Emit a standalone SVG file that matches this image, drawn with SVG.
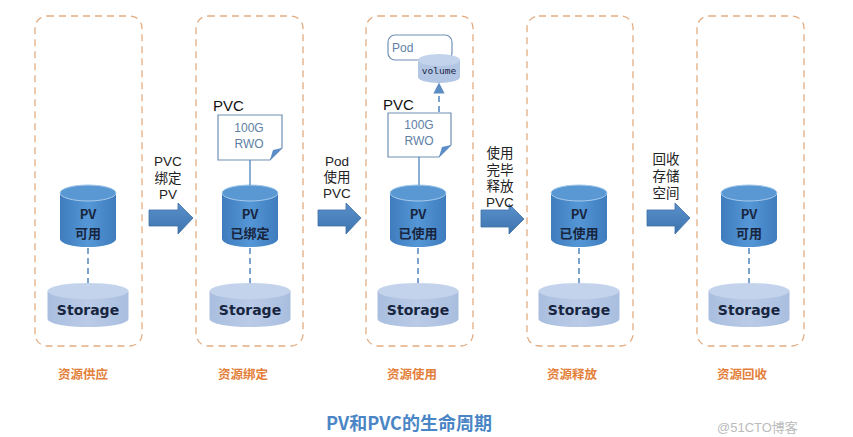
<svg xmlns="http://www.w3.org/2000/svg" width="853" height="437" viewBox="0 0 853 437">
<defs>
<linearGradient id="gPV" x1="0" y1="0" x2="1" y2="0">
<stop offset="0" stop-color="#3F7CBD"/><stop offset="0.5" stop-color="#5597D6"/><stop offset="1" stop-color="#3F7CBD"/>
</linearGradient>
<linearGradient id="gST" x1="0" y1="0" x2="1" y2="0">
<stop offset="0" stop-color="#A9BEDF"/><stop offset="0.5" stop-color="#BACBE7"/><stop offset="1" stop-color="#A9BEDF"/>
</linearGradient>
<linearGradient id="gAR" x1="0" y1="0" x2="0" y2="1">
<stop offset="0" stop-color="#5A90CB"/><stop offset="1" stop-color="#3E74AE"/>
</linearGradient>
<marker id="up" viewBox="0 0 10 10" refX="5" refY="5" markerWidth="7" markerHeight="7" orient="auto">
<path d="M0,0 L10,5 L0,10 Z" fill="#5B8DC2"/>
</marker>
<g id="pvcyl">
<path d="M-28,193 L-28,239 A28,8 0 0 0 28,239 L28,193 Z" fill="url(#gPV)"/>
<ellipse cx="0" cy="193" rx="28" ry="8" fill="#5A98D4" stroke="#A9CBEB" stroke-width="1"/>
</g>
<g id="stcyl">
<path d="M-40.5,291 L-40.5,319 A40.5,8 0 0 0 40.5,319 L40.5,291 Z" fill="url(#gST)"/>
<ellipse cx="0" cy="291" rx="40.5" ry="8" fill="#C4D3EC"/>
</g>
</defs>
<style>
.col{fill:none;stroke:#E3AC80;stroke-width:1.3;stroke-dasharray:7 5}
.pv{font-family:"Noto Sans CJK SC","Liberation Sans",sans-serif;font-weight:bold;font-size:13px;fill:#17253F;text-anchor:middle}
.st{font-family:"DejaVu Sans","Liberation Sans",sans-serif;font-weight:bold;font-size:14px;fill:#17253F;text-anchor:middle}
.lbl{font-family:"Liberation Sans","Noto Sans CJK SC",sans-serif;font-size:13.5px;fill:#222;text-anchor:middle}
.stage{font-family:"Noto Sans CJK SC",sans-serif;font-weight:bold;font-size:12.5px;fill:#E37F3A;text-anchor:middle}
.dash{stroke:#5B8DC2;stroke-width:1.6;stroke-dasharray:6 4;fill:none}
.solid{stroke:#5B8DC2;stroke-width:1.4;fill:none}
.note{fill:#fff;stroke:#6F8FB5;stroke-width:1.2}
.notet{font-family:"Liberation Sans","Noto Sans",sans-serif;font-size:12px;fill:#5E7FA6;text-anchor:middle}
.pvc{font-family:"Liberation Sans",sans-serif;font-size:15px;fill:#111}
.arrow{fill:url(#gAR);stroke:#3C6FA5;stroke-width:0.8}
</style>
<rect width="853" height="437" fill="#fff"/>

<g id="col1">
<rect class="col" x="35" y="16" width="107" height="330" rx="12"/>
<use href="#pvcyl" x="88"/>
<text class="pv" x="88" y="219">PV</text>
<text class="pv" x="88" y="238">可用</text>
<use href="#stcyl" x="88"/>
<text class="st" x="88" y="315">Storage</text>
<text class="stage" x="83" y="379">资源供应</text>
</g>

<g id="col2">
<rect class="col" x="196" y="16" width="107" height="330" rx="12"/>
<text class="pvc" x="213" y="111">PVC</text>
<path class="note" d="M218,115 H282 V148 L270,160 H218 Z"/>
<path d="M270,160 L273,150 L282,148 Z" fill="#5B8DC8"/>
<text class="notet" x="249" y="132">100G</text>
<text class="notet" x="249" y="148">RWO</text>
<use href="#pvcyl" x="250"/>
<text class="pv" x="250" y="219">PV</text>
<text class="pv" x="250" y="238">已绑定</text>
<use href="#stcyl" x="250"/>
<text class="st" x="250" y="315">Storage</text>
<text class="stage" x="243" y="379">资源绑定</text>
</g>

<g id="col3">
<rect class="col" x="366" y="16" width="107" height="330" rx="12"/>
<rect x="388" y="35" width="64" height="25" rx="7" fill="#fff" stroke="#6F8FB5" stroke-width="1.2"/>
<text x="392" y="52" font-family="Liberation Sans,sans-serif" font-size="12" fill="#5E7FA6">Pod</text>
<path d="M418,60 L418,77 A21,6 0 0 0 460,77 L460,60 Z" fill="#B3C6E4"/>
<ellipse cx="439" cy="60" rx="21" ry="6" fill="#C4D3EC"/>
<text x="439" y="74" font-family="DejaVu Sans Mono,Liberation Mono,monospace" font-size="9.5" fill="#17253F" text-anchor="middle">volume</text>
<text class="pvc" x="383" y="110">PVC</text>
<path class="note" d="M388,113 H451 V145 L439,157 H388 Z"/>
<path d="M439,157 L442,147 L451,145 Z" fill="#5B8DC8"/>
<text class="notet" x="419" y="129">100G</text>
<text class="notet" x="419" y="145">RWO</text>
<use href="#pvcyl" x="418"/>
<text class="pv" x="418" y="219">PV</text>
<text class="pv" x="418" y="238">已使用</text>
<use href="#stcyl" x="418"/>
<text class="st" x="418" y="315">Storage</text>
<text class="stage" x="412" y="379">资源使用</text>
</g>

<g id="col4">
<rect class="col" x="527" y="16" width="106" height="330" rx="12"/>
<use href="#pvcyl" x="579"/>
<text class="pv" x="579" y="219">PV</text>
<text class="pv" x="579" y="238">已使用</text>
<use href="#stcyl" x="579"/>
<text class="st" x="579" y="315">Storage</text>
<text class="stage" x="572" y="379">资源释放</text>
</g>

<g id="col5">
<rect class="col" x="697" y="16" width="107" height="330" rx="12"/>
<use href="#pvcyl" x="749"/>
<text class="pv" x="749" y="219">PV</text>
<text class="pv" x="749" y="238">可用</text>
<use href="#stcyl" x="749"/>
<text class="st" x="749" y="315">Storage</text>
<text class="stage" x="742" y="379">资源回收</text>
</g>

<g id="connectors">
<line class="dash" x1="88" y1="248" x2="88" y2="283"/>
<line class="dash" x1="250" y1="248" x2="250" y2="283"/>
<line class="dash" x1="418" y1="248" x2="418" y2="283"/>
<line class="dash" x1="579" y1="248" x2="579" y2="283"/>
<line class="dash" x1="749" y1="248" x2="749" y2="283"/>
<line class="solid" x1="250" y1="160" x2="250" y2="185"/>
<line class="solid" x1="419" y1="157" x2="419" y2="185"/>
<line class="dash" x1="439" y1="112" x2="439" y2="88" marker-end="url(#up)"/>

<path class="arrow" d="M149,210 H178 V203 L193,218 L178,234 V226 H149 Z"/>
<path class="arrow" d="M318,210 H346 V203 L361,218 L346,234 V226 H318 Z"/>
<path class="arrow" d="M481,210 H509 V204 L524,219 L509,234 V227 H481 Z"/>
<path class="arrow" d="M647,210 H675 V203 L690,218 L675,234 V226 H647 Z"/>

<text class="lbl" x="168" y="166">PVC</text>
<text class="lbl" x="168" y="183">绑定</text>
<text class="lbl" x="168" y="199">PV</text>
<text class="lbl" x="337" y="166">Pod</text>
<text class="lbl" x="337" y="182">使用</text>
<text class="lbl" x="337" y="198">PVC</text>
<text class="lbl" x="500" y="158">使用</text>
<text class="lbl" x="500" y="175">完毕</text>
<text class="lbl" x="500" y="191">释放</text>
<text class="lbl" x="500" y="207">PVC</text>
<text class="lbl" x="666" y="164">回收</text>
<text class="lbl" x="666" y="181">存储</text>
<text class="lbl" x="666" y="198">空间</text>
</g>

<text x="326" y="430" font-family="Noto Sans CJK SC,sans-serif" font-weight="bold" font-size="18" fill="#4A86C5">PV和PVC的生命周期</text>
<text x="717" y="432" font-family="Liberation Sans,Noto Sans CJK SC,sans-serif" font-size="13" fill="#BBBBBB">@51CTO博客</text>
</svg>
